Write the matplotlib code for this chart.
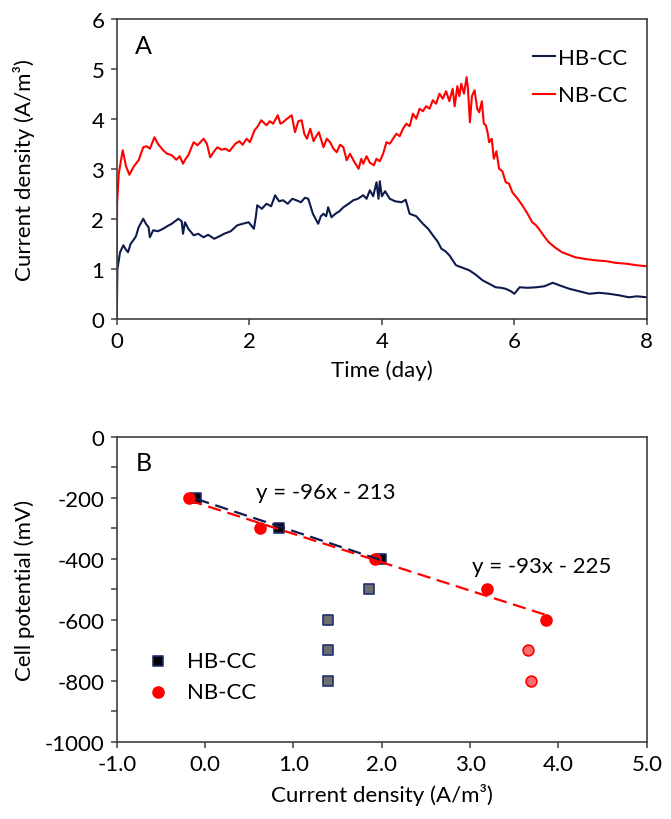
import numpy as np
import matplotlib
matplotlib.use('Agg')
import matplotlib.pyplot as plt
from matplotlib.ticker import MultipleLocator, FormatStrFormatter

plt.rcParams['font.family'] = ['Lato', 'DejaVu Sans']
plt.rcParams['axes.unicode_minus'] = False

# ── Panel A: current density over time ─────────────────────
nb_t = [0.0, 0.005, 0.03, 0.09, 0.14, 0.19, 0.26, 0.33, 0.40, 0.45, 0.50, 0.57, 0.62,
        0.70, 0.76, 0.83, 0.90, 0.95, 1.00, 1.04, 1.08, 1.16, 1.22, 1.31, 1.36, 1.41,
        1.47, 1.52, 1.58, 1.64, 1.70, 1.79, 1.85, 1.90, 1.96, 2.01, 2.08, 2.13, 2.18,
        2.26, 2.31, 2.36, 2.43, 2.47, 2.51, 2.57, 2.64, 2.69, 2.74, 2.79, 2.83, 2.87,
        2.92, 2.97, 3.01, 3.05, 3.12, 3.17, 3.22, 3.27, 3.32, 3.37, 3.42, 3.47, 3.52,
        3.58, 3.65, 3.69, 3.72, 3.77, 3.82, 3.88, 3.92, 3.97, 4.02, 4.07, 4.12, 4.17,
        4.22, 4.27, 4.32, 4.37, 4.42, 4.47, 4.52, 4.57, 4.62, 4.67, 4.72, 4.77, 4.82,
        4.87, 4.92, 4.97, 5.02, 5.07, 5.10, 5.14, 5.17, 5.20, 5.24, 5.28, 5.30, 5.33,
        5.36, 5.40, 5.44, 5.47, 5.51, 5.54, 5.57, 5.60, 5.62, 5.66, 5.69, 5.73, 5.77,
        5.82, 5.87, 5.92, 5.97, 6.05, 6.12, 6.20, 6.27, 6.32, 6.37, 6.45, 6.52, 6.62,
        6.72, 6.82, 6.92, 7.05, 7.22, 7.40, 7.52, 7.70, 7.85, 8.0]
nb_j = [0.0, 2.30, 2.90, 3.37, 3.05, 2.88, 3.05, 3.17, 3.43, 3.45, 3.40, 3.63, 3.50,
        3.37, 3.30, 3.27, 3.18, 3.25, 3.10, 3.20, 3.27, 3.53, 3.47, 3.60, 3.50, 3.23,
        3.35, 3.43, 3.38, 3.40, 3.35, 3.50, 3.55, 3.48, 3.60, 3.53, 3.77, 3.85, 3.97,
        3.87, 3.95, 3.90, 4.07, 3.90, 3.93, 4.00, 4.07, 3.73, 3.95, 3.97, 3.70, 3.60,
        3.80, 3.55, 3.65, 3.73, 3.43, 3.60, 3.53, 3.40, 3.33, 3.48, 3.43, 3.17, 3.30,
        3.15, 3.00, 3.20, 3.10, 3.25, 3.12, 3.07, 3.20, 3.15, 3.30, 3.53, 3.50, 3.60,
        3.70, 3.65, 3.80, 3.90, 3.85, 4.10, 4.00, 4.20, 4.15, 4.25, 4.20, 4.37, 4.30,
        4.50, 4.40, 4.55, 4.35, 4.60, 4.25, 4.65, 4.45, 4.70, 4.50, 4.83, 4.60, 3.93,
        4.45, 4.57, 4.20, 4.13, 4.35, 3.90, 3.87, 3.70, 3.53, 3.60, 3.20, 3.35, 3.00,
        2.95, 2.73, 2.70, 2.53, 2.40, 2.27, 2.10, 1.93, 1.88, 1.80, 1.65, 1.53, 1.42,
        1.33, 1.28, 1.23, 1.20, 1.17, 1.15, 1.12, 1.10, 1.07, 1.05]

hb_t = [0.0, 0.01, 0.05, 0.10, 0.13, 0.17, 0.21, 0.25, 0.29, 0.33, 0.40, 0.44, 0.48,
        0.50, 0.55, 0.62, 0.70, 0.76, 0.83, 0.93, 0.98, 1.00, 1.03, 1.08, 1.16, 1.23,
        1.31, 1.38, 1.47, 1.55, 1.62, 1.72, 1.82, 1.90, 1.99, 2.07, 2.10, 2.12, 2.19,
        2.26, 2.33, 2.39, 2.45, 2.51, 2.58, 2.65, 2.71, 2.78, 2.84, 2.89, 2.96, 3.04,
        3.08, 3.12, 3.16, 3.19, 3.24, 3.30, 3.36, 3.42, 3.50, 3.57, 3.64, 3.72, 3.77,
        3.82, 3.87, 3.92, 3.95, 3.97, 4.00, 4.05, 4.12, 4.20, 4.30, 4.36, 4.42, 4.52,
        4.62, 4.70, 4.77, 4.84, 4.90, 4.96, 5.02, 5.08, 5.12, 5.22, 5.32, 5.42, 5.52,
        5.62, 5.72, 5.80, 5.87, 5.95, 6.00, 6.08, 6.20, 6.33, 6.45, 6.58, 6.70, 6.83,
        6.98, 7.13, 7.28, 7.43, 7.58, 7.73, 7.85, 8.0]
hb_j = [0.0, 1.00, 1.33, 1.47, 1.40, 1.33, 1.50, 1.57, 1.65, 1.83, 2.00, 1.90, 1.83,
        1.63, 1.77, 1.75, 1.80, 1.85, 1.90, 2.00, 1.95, 1.70, 1.93, 1.80, 1.67, 1.70,
        1.63, 1.68, 1.60, 1.65, 1.70, 1.75, 1.87, 1.90, 1.93, 1.80, 2.05, 2.27, 2.20,
        2.30, 2.25, 2.47, 2.35, 2.37, 2.30, 2.40, 2.37, 2.33, 2.42, 2.40, 2.10, 1.90,
        2.05, 2.10, 2.05, 2.23, 2.03, 2.10, 2.15, 2.23, 2.30, 2.37, 2.40, 2.47, 2.40,
        2.57, 2.45, 2.73, 2.40, 2.75, 2.45, 2.55, 2.40, 2.35, 2.33, 2.38, 2.10, 2.05,
        1.90, 1.80, 1.67, 1.55, 1.40, 1.35, 1.27, 1.15, 1.07, 1.02, 0.97, 0.88, 0.77,
        0.70, 0.63, 0.62, 0.60, 0.55, 0.50, 0.63, 0.62, 0.63, 0.65, 0.72, 0.66, 0.60,
        0.55, 0.50, 0.52, 0.50, 0.47, 0.43, 0.45, 0.43]

# ── Panel B: polarisation data ──────────────────────────────
hb_x = [-0.10, 0.84, 1.99]
hb_y = [-200, -300, -400]
hb_x_extra = [1.86, 1.39, 1.39, 1.39]
hb_y_extra = [-500, -600, -700, -800]
nb_x = [-0.18, 0.62, 1.92, 3.19, 3.86]
nb_y = [-200, -300, -400, -500, -600]
nb_x_extra = [3.65, 3.69]
nb_y_extra = [-700, -800]
fit_slope = [-96, -93]
fit_icpt = [-213, -225]
fit_label = ['y = -96x - 213', 'y = -93x - 225']

NAVY = '#0f1b4d'; RED = '#ff0000'; AXC = '#404040'
FS = 16

fig = plt.figure(figsize=(6.71, 8.2), dpi=100)
axA = fig.add_axes([0.174, 0.610, 0.790, 0.366])
axB = fig.add_axes([0.174, 0.094, 0.790, 0.372])

for ax in (axA, axB):
    for s in ax.spines.values():
        s.set_color(AXC); s.set_linewidth(1.2)
    ax.tick_params(direction='out', length=4, width=1.1, color=AXC,
                   labelsize=FS, pad=5)
    ax.tick_params(which='minor', direction='out', length=4, width=1.1, color=AXC)

# Panel A
axA.plot(hb_t, hb_j, color=NAVY, lw=1.5, label='HB-CC')
axA.plot(nb_t, nb_j, color=RED, lw=1.5, label='NB-CC')
axA.set_xlim(0, 8); axA.set_ylim(0, 6)
axA.xaxis.set_major_locator(MultipleLocator(2))
axA.yaxis.set_major_locator(MultipleLocator(1))
axA.set_xlabel('Time (day)', fontsize=FS, labelpad=6)
axA.set_ylabel('Current density (A/m³)', fontsize=FS)
axA.yaxis.set_label_coords(-0.155, 0.5)
axA.text(0.035, 0.91, 'A', transform=axA.transAxes, fontsize=18, va='center')
axA.legend(loc='upper right', frameon=False, fontsize=FS, handlelength=1.0,
           handletextpad=0.1, labelspacing=0.8, bbox_to_anchor=(1.0, 0.97))

# Panel B
axB.scatter(hb_x_extra, hb_y_extra, marker='s', s=60, color='#6e6e6e',
            edgecolors='#1f3070', linewidths=1.2, zorder=3)
axB.scatter(nb_x_extra, nb_y_extra, marker='o', s=60, color='#ff6f6f',
            edgecolors=RED, linewidths=1.2, zorder=3)
axB.scatter(hb_x, hb_y, marker='s', s=60, color='black', edgecolors='#1f3070',
            linewidths=1.2, zorder=4, label='HB-CC')
axB.scatter(nb_x, nb_y, marker='o', s=65, color=RED, edgecolors=RED,
            linewidths=1.0, zorder=5, label='NB-CC')
for xs, m, c, col in [(hb_x, fit_slope[0], fit_icpt[0], NAVY),
                      (nb_x, fit_slope[1], fit_icpt[1], RED)]:
    xl = np.array([min(xs), max(xs)])
    axB.plot(xl, m * xl + c, ls=(0, (6, 3)), color=col, lw=1.6, zorder=6)
axB.text(0.58, -180, fit_label[0], fontsize=FS, va='center')
axB.text(3.02, -424, fit_label[1], fontsize=FS, va='center')
axB.set_xlim(-1, 5); axB.set_ylim(-1000, 0)
axB.xaxis.set_major_locator(MultipleLocator(1))
axB.xaxis.set_major_formatter(FormatStrFormatter('%.1f'))
axB.yaxis.set_major_locator(MultipleLocator(200))
axB.yaxis.set_minor_locator(MultipleLocator(100))
axB.set_xlabel('Current density (A/m³)', fontsize=FS, labelpad=6)
axB.set_ylabel('Cell potential (mV)', fontsize=FS)
axB.yaxis.set_label_coords(-0.155, 0.5)
axB.text(0.035, 0.915, 'B', transform=axB.transAxes, fontsize=18, va='center')
axB.legend(loc='center left', frameon=False, fontsize=FS, handletextpad=0.3,
           labelspacing=0.5, bbox_to_anchor=(0.02, 0.215), borderaxespad=0)

fig.savefig('out.png', dpi=100)
